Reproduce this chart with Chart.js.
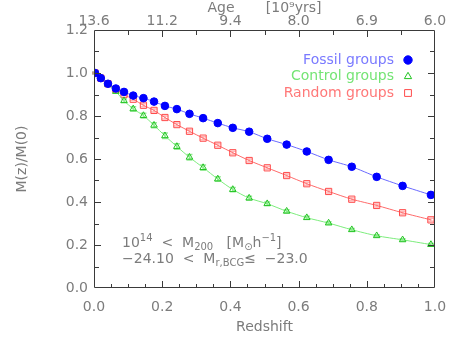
<!DOCTYPE html>
<html>
<head>
<meta charset="utf-8">
<script src="https://cdn.jsdelivr.net/npm/chart.js@4"></script>
<style>
  html, body { margin: 0; padding: 0; background: #fff; }
  #wrap { width: 463px; height: 348px; }
</style>
</head>
<body>
<div id="wrap"><canvas id="graph1" width="463" height="348"></canvas></div>
<script>
// redshift of each measurement
const redshift = [0.003, 0.02, 0.041, 0.064, 0.088, 0.115, 0.145, 0.176, 0.208, 0.243, 0.28, 0.32,
    0.363, 0.407, 0.455, 0.508, 0.565, 0.624, 0.688, 0.756, 0.829, 0.905, 0.988];

const fossil = [1.0, 0.976, 0.95, 0.928, 0.912, 0.895, 0.883, 0.867, 0.847, 0.832, 0.81, 0.79,
    0.767, 0.745, 0.727, 0.694, 0.667, 0.635, 0.596, 0.564, 0.517, 0.475, 0.433];
const fossilErr = [0.004, 0.005, 0.006, 0.006, 0.007, 0.007, 0.008, 0.008, 0.009, 0.009, 0.01, 0.01,
    0.01, 0.011, 0.011, 0.011, 0.012, 0.012, 0.012, 0.012, 0.012, 0.012, 0.012];

const control = [1.0, 0.976, 0.947, 0.914, 0.871, 0.833, 0.802, 0.757, 0.708, 0.658, 0.608, 0.56,
    0.507, 0.458, 0.418, 0.392, 0.357, 0.327, 0.302, 0.271, 0.243, 0.224, 0.202];
const controlErr = [0.003, 0.004, 0.005, 0.006, 0.008, 0.01, 0.011, 0.012, 0.013, 0.013, 0.013, 0.012,
    0.011, 0.01, 0.009, 0.008, 0.007, 0.007, 0.006, 0.006, 0.005, 0.005, 0.005];

const random = [1.0, 0.976, 0.95, 0.925, 0.9, 0.878, 0.85, 0.826, 0.793, 0.76, 0.729, 0.697,
    0.664, 0.629, 0.593, 0.559, 0.523, 0.485, 0.449, 0.413, 0.384, 0.35, 0.317];
const randomErr = [0.003, 0.004, 0.005, 0.005, 0.006, 0.006, 0.007, 0.007, 0.007, 0.007, 0.007, 0.007,
    0.007, 0.007, 0.007, 0.007, 0.007, 0.007, 0.007, 0.007, 0.007, 0.007, 0.007];

// top axis: age of the universe at redshift 0, 0.2, ... 1.0
const ageLabels = ['13.6', '11.2', '9.4', '8.0', '6.9', '6.0'];

const greyText = '#7c7c7c';
const font = { family: 'DejaVu Sans', size: 14 };

const toPoints = (ys) => ys.map((y, i) => ({ x: redshift[i], y: y }));

const series = [
    { label: 'Fossil groups', data: fossil, err: fossilErr, line: '#6a6aff', mark: '#0000ff',
      errColor: 'rgba(110,110,255,0.55)', text: '#7a7aff', style: 'circle', fill: '#0000ff', r: 3.8 },
    { label: 'Control groups', data: control, err: controlErr, line: '#7ded7d', mark: '#22c422',
      errColor: 'rgba(80,220,80,0.6)', text: '#74e474', style: 'triangle', fill: 'rgba(0,0,0,0)', r: 3.8 },
    { label: 'Random groups', data: random, err: randomErr, line: '#ff6a6a', mark: '#ff4a4a',
      errColor: 'rgba(255,120,120,0.55)', text: '#ff7878', style: 'rect', fill: 'rgba(0,0,0,0)', r: 4.4 }
];

// frame with inward ticks, like the original plot
const framePlugin = {
    id: 'frame',
    afterDatasetsDraw(chart) {
        const ctx = chart.ctx;
        const a = chart.chartArea;
        const xs = chart.scales.x, ys = chart.scales.y;
        ctx.save();
        ctx.strokeStyle = '#3a3a3a';
        ctx.lineWidth = 1;
        ctx.beginPath();
        ctx.rect(a.left + 0.5, a.top + 0.5, a.right - a.left - 1, a.bottom - a.top - 1);
        ctx.stroke();
        ctx.beginPath();
        // bottom: major 0.2, minor 0.05
        for (let k = 1; k < 20; k++) {
            const px = Math.round(xs.getPixelForValue(k * 0.05)) + 0.5;
            const len = k % 4 === 0 ? 7 : 4;
            ctx.moveTo(px, a.bottom); ctx.lineTo(px, a.bottom - len);
        }
        // top: major 0.2, minor 0.1
        for (let k = 1; k < 10; k++) {
            const px = Math.round(xs.getPixelForValue(k * 0.1)) + 0.5;
            const len = k % 2 === 0 ? 7 : 5;
            ctx.moveTo(px, a.top); ctx.lineTo(px, a.top + len);
        }
        // left and right: major 0.2, minor 0.1
        for (let k = 1; k < 12; k++) {
            const py = Math.round(ys.getPixelForValue(k * 0.1)) + 0.5;
            const len = k % 2 === 0 ? 7 : 5;
            ctx.moveTo(a.left, py); ctx.lineTo(a.left + len, py);
            ctx.moveTo(a.right, py); ctx.lineTo(a.right - len, py);
        }
        ctx.stroke();
        ctx.restore();
    }
};

// error bars behind the markers
const errorPlugin = {
    id: 'errors',
    beforeDatasetsDraw(chart) {
        const ctx = chart.ctx;
        const xs = chart.scales.x, ys = chart.scales.y;
        ctx.save();
        ctx.lineWidth = 1.5;
        series.forEach((s) => {
            ctx.strokeStyle = s.errColor;
            ctx.beginPath();
            s.data.forEach((v, i) => {
                const px = xs.getPixelForValue(redshift[i]);
                const y1 = ys.getPixelForValue(v + s.err[i]);
                const y2 = ys.getPixelForValue(v - s.err[i]);
                ctx.moveTo(px, y1); ctx.lineTo(px, y2);
                ctx.moveTo(px - 3, y1); ctx.lineTo(px + 3, y1);
                ctx.moveTo(px - 3, y2); ctx.lineTo(px + 3, y2);
            });
            ctx.stroke();
        });
        ctx.restore();
    }
};

// legend (text then symbol) and the sample description
const notesPlugin = {
    id: 'notes',
    afterDraw(chart) {
        const ctx = chart.ctx;
        const a = chart.chartArea;
        ctx.save();
        ctx.font = '14px "DejaVu Sans"';
        ctx.textBaseline = 'middle';
        ctx.textAlign = 'right';
        series.forEach((s, i) => {
            const y = a.top + 30 + i * 16.5;
            ctx.fillStyle = s.text;
            ctx.fillText(s.label, a.right - 41, y);
            ctx.strokeStyle = s.mark;
            ctx.fillStyle = s.style === 'circle' ? s.mark : 'rgba(0,0,0,0)';
            ctx.lineWidth = 1;
            Chart.helpers.drawPoint(ctx, { pointStyle: s.style, radius: s.r + 0.4, borderWidth: 1 },
                a.right - 27, y);
        });

        // M200 / BCG magnitude text, drawn piece by piece for sub/superscripts
        ctx.textAlign = 'left';
        ctx.textBaseline = 'alphabetic';
        ctx.fillStyle = greyText;
        const big = '14px "DejaVu Sans"', small = '10px "DejaVu Sans"';
        const put = (parts, x, y) => {
            parts.forEach(([txt, kind]) => {
                ctx.font = kind ? small : big;
                const dy = kind === 'sup' ? -6 : kind === 'sub' ? 3 : 0;
                ctx.fillText(txt, x, y + dy);
                x += ctx.measureText(txt).width;
            });
        };
        const x0 = a.left + 28;
        put([['10'], ['14', 'sup'], ['  <  M'], ['200', 'sub'], ['   [M'], ['⊙', 'sub'], ['h'], ['−1', 'sup'], [']']],
            x0, a.top + 217);
        put([['−24.10  <  M'], ['r,BCG', 'sub'], ['≤  −23.0']], x0, a.top + 233);
        ctx.restore();
    }
};

const config = {
    type: 'line',
    data: {
        datasets: series.map((s) => ({
            label: s.label,
            data: toPoints(s.data),
            borderColor: s.line,
            borderWidth: 1,
            tension: 0.25,
            pointStyle: s.style,
            pointRadius: s.r,
            pointBorderColor: s.mark,
            pointBackgroundColor: s.fill,
            pointBorderWidth: 1
        }))
    },
    options: {
        responsive: false,
        animation: false,
        layout: { padding: { left: 0, right: 28, top: 0, bottom: 0 } },
        plugins: {
            legend: { display: false },
            tooltip: { enabled: false }
        },
        scales: {
            x: {
                type: 'linear',
                position: 'bottom',
                min: 0,
                max: 1,
                grid: { display: false, drawTicks: false },
                border: { display: false },
                ticks: {
                    stepSize: 0.2,
                    padding: 11,
                    color: greyText,
                    font: font,
                    maxRotation: 0,
                    callback: (v) => v.toFixed(1)
                },
                title: { display: true, text: 'Redshift', color: greyText, font: font, padding: { top: 2, bottom: 12 } },
                afterFit: (scale) => { scale.height = 60; }
            },
            xTop: {
                type: 'linear',
                position: 'top',
                min: 0,
                max: 1,
                grid: { display: false, drawTicks: false },
                border: { display: false },
                ticks: {
                    stepSize: 0.2,
                    padding: 0,
                    color: greyText,
                    font: font,
                    maxRotation: 0,
                    callback: (v) => ageLabels[Math.round(v / 0.2)]
                },
                title: { display: true, text: 'Age       [10⁹yrs]', color: greyText, font: font, padding: 0 },
                afterFit: (scale) => { scale.height = 30; }
            },
            y: {
                type: 'linear',
                position: 'left',
                min: 0,
                max: 1.2,
                grid: { display: false, drawTicks: false },
                border: { display: false },
                ticks: {
                    stepSize: 0.2,
                    padding: 6,
                    color: greyText,
                    font: font,
                    callback: (v) => v.toFixed(1)
                },
                title: { display: true, text: 'M(z)/M(0)', color: greyText, font: font, padding: { top: 14, bottom: 0 } },
                afterFit: (scale) => { scale.width = 94; }
            }
        }
    },
    plugins: [errorPlugin, framePlugin, notesPlugin]
};

const myChart = new Chart(document.getElementById('graph1'), config);
</script>
</body>
</html>
